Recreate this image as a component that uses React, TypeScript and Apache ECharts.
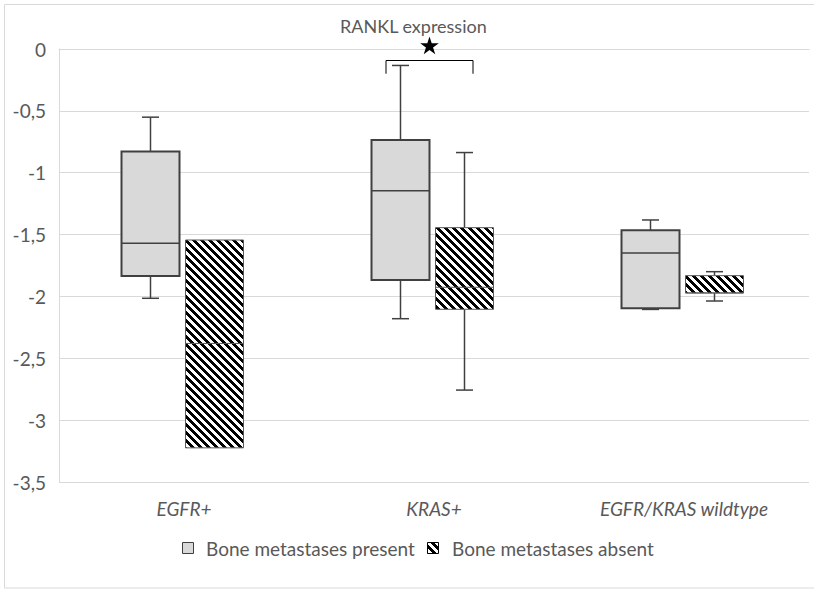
import React, { useEffect, useRef } from "react";
import * as echarts from "echarts";

const categories = ["EGFR+", "KRAS+", "EGFR/KRAS wildtype"];
// [min, Q1, median, Q3, max]
const presentStats = [
  [-2.015, -1.835, -1.57, -0.829, -0.551],
  [-2.18, -1.867, -1.145, -0.735, -0.133],
  [-2.105, -2.096, -1.649, -1.465, -1.382],
];
const absentStats = [
  [-3.224, -3.224, -2.38, -1.544, -1.544],
  [-2.757, -2.104, -1.926, -1.444, -0.837],
  [-2.037, -1.972, -1.972, -1.832, -1.8],
];
const seriesNames = ["Bone metastases present", "Bone metastases absent"];
const yMin = -3.5;
const yMax = 0;
const yStep = 0.5;
// significance bracket (KRAS+): bracket top value, bracket end value, star centre value
const sigCategory = 1;
const sigValues = [-0.093, -0.2, 0.022];

const FONT = "Lato";
const GRAY = "#595959";

function makeHatch(): string {
  const c = document.createElement("canvas");
  c.width = 8;
  c.height = 8;
  const ctx = c.getContext("2d")!;
  ctx.fillStyle = "#ffffff";
  ctx.fillRect(0, 0, 8, 8);
  ctx.fillStyle = "#000000";
  for (let y = 0; y < 8; y++) {
    for (let x = 0; x < 8; x++) {
      if ((((x - y) % 8) + 8) % 8 < 4) ctx.fillRect(x, y, 1, 1);
    }
  }
  return c.toDataURL();
}

function starPoints(cx: number, cy: number, R: number): number[][] {
  const r = R * 0.382;
  const pts: number[][] = [];
  for (let i = 0; i < 10; i++) {
    const a = -Math.PI / 2 + (i * Math.PI) / 5;
    const rad = i % 2 === 0 ? R : r;
    pts.push([cx + rad * Math.cos(a), cy + rad * Math.sin(a)]);
  }
  return pts;
}

export default function App() {
  const ref = useRef<HTMLDivElement>(null);
  useEffect(() => {
    if (!ref.current) return;
    const chart = echarts.init(ref.current, null, { renderer: "svg" });
    const hatch = {
      image: makeHatch(),
      repeat: "repeat",
      imageWidth: 8,
      imageHeight: 8,
    } as any;

    const boxStyles = [
      { fill: "#d9d9d9", stroke: "#404040", lineWidth: 2, offset: -33.5 / 250, median: "#404040", medianW: 1.5 },
      { fill: hatch, stroke: "#595959", lineWidth: 1, offset: 30.5 / 250, median: "#595959", medianW: 1 },
    ];

    const makeBoxSeries = (idx: number, stats: number[][]) => ({
      type: "custom",
      name: seriesNames[idx],
      coordinateSystem: "cartesian2d",
      dimensions: ["cat", "min", "q1", "med", "q3", "max"],
      encode: { x: 0, y: [1, 2, 3, 4, 5] },
      data: stats.map((s, i) => [i, ...s]),
      z: 3,
      renderItem: (params: any, api: any) => {
        const st = boxStyles[idx];
        const cat = api.value(0);
        const band = api.size([1, 0])[0];
        const cx = api.coord([cat, 0])[0] + st.offset * band;
        const w = band * (58 / 250);
        const cap = band * (17 / 250);
        const y = (v: number) => api.coord([cat, v])[1];
        const vMin = api.value(1), vQ1 = api.value(2), vMed = api.value(3), vQ3 = api.value(4), vMax = api.value(5);
        const children: any[] = [];
        const wStyle = { stroke: "#404040", lineWidth: 1.5 };
        if (vMax !== vQ3) {
          children.push({ type: "line", shape: { x1: cx, y1: y(vMax), x2: cx, y2: y(vQ3) }, style: wStyle });
          children.push({ type: "line", shape: { x1: cx - cap / 2, y1: y(vMax), x2: cx + cap / 2, y2: y(vMax) }, style: wStyle });
        }
        if (vMin !== vQ1) {
          children.push({ type: "line", shape: { x1: cx, y1: y(vQ1), x2: cx, y2: y(vMin) }, style: wStyle });
          children.push({ type: "line", shape: { x1: cx - cap / 2, y1: y(vMin), x2: cx + cap / 2, y2: y(vMin) }, style: wStyle });
        }
        children.push({
          type: "rect",
          shape: { x: cx - w / 2, y: y(vQ3), width: w, height: y(vQ1) - y(vQ3) },
          style: { fill: st.fill, stroke: st.stroke, lineWidth: st.lineWidth },
        });
        children.push({
          type: "line",
          shape: { x1: cx - w / 2, y1: y(vMed), x2: cx + w / 2, y2: y(vMed) },
          style: { stroke: st.median, lineWidth: st.medianW },
        });
        return { type: "group", children };
      },
    });

    const option: any = {
      animation: false,
      title: {
        text: "RANKL expression",
        left: 340,
        top: 17,
        padding: 0,
        textStyle: { fontFamily: FONT, fontSize: 18, lineHeight: 18, fontWeight: "normal", color: GRAY },
      },
      grid: { left: 59, right: 5, top: 49, bottom: 107, containLabel: false },
      xAxis: {
        type: "category",
        data: categories,
        axisLine: { show: true, lineStyle: { color: "#d9d9d9", width: 1 } },
        axisTick: { show: false },
        axisLabel: { fontFamily: FONT, fontSize: 19, fontStyle: "italic", color: GRAY, margin: 17 },
        splitLine: { show: false },
      },
      yAxis: {
        type: "value",
        min: yMin,
        max: yMax,
        interval: yStep,
        axisLine: { show: true, lineStyle: { color: "#d9d9d9", width: 1 } },
        axisTick: { show: false },
        axisLabel: {
          fontFamily: FONT,
          fontSize: 19,
          color: GRAY,
          margin: 13,
          formatter: (v: number) => String(v).replace(".", ","),
        },
        splitLine: { show: true, lineStyle: { color: "#d9d9d9", width: 1 } },
      },
      series: [
        makeBoxSeries(0, presentStats),
        makeBoxSeries(1, absentStats),
        {
          type: "custom",
          name: "significance",
          coordinateSystem: "cartesian2d",
          clip: false,
          z: 5,
          data: [[sigCategory, ...sigValues]],
          dimensions: ["cat", "top", "end", "star"],
          encode: { x: 0, y: [1, 2, 3] },
          renderItem: (params: any, api: any) => {
            const cat = api.value(0);
            const band = api.size([1, 0])[0];
            const c = api.coord([cat, 0])[0];
            const xl = c - band * (48 / 250);
            const xr = c + band * (39 / 250);
            const yt = api.coord([cat, api.value(1)])[1];
            const ye = api.coord([cat, api.value(2)])[1];
            const ys = api.coord([cat, api.value(3)])[1];
            return {
              type: "group",
              children: [
                {
                  type: "polyline",
                  shape: { points: [[xl, ye], [xl, yt], [xr, yt], [xr, ye]] },
                  style: { stroke: "#000", lineWidth: 1, fill: "none" },
                },
                {
                  type: "polygon",
                  shape: { points: starPoints((xl + xr) / 2, ys, 9.8) },
                  style: { fill: "#000", stroke: "none" },
                },
              ],
            };
          },
        },
      ],
      graphic: [
        {
          type: "rect",
          shape: { x: 4.5, y: 4.5, width: 830, height: 583.5 },
          style: { fill: "none", stroke: "#d9d9d9", lineWidth: 1 },
          z: 0,
        },
        {
          type: "rect",
          shape: { x: 182.5, y: 542.5, width: 11, height: 11 },
          style: { fill: "#d9d9d9", stroke: "#404040", lineWidth: 1 },
        },
        {
          type: "text",
          x: 206,
          y: 548,
          style: { text: seriesNames[0], fontFamily: FONT, fontSize: 19, fill: GRAY, verticalAlign: "middle" },
        },
        {
          type: "rect",
          shape: { x: 427.5, y: 542.5, width: 11, height: 11 },
          style: { fill: hatch, stroke: "#000", lineWidth: 1 },
        },
        {
          type: "text",
          x: 452,
          y: 548,
          style: { text: seriesNames[1], fontFamily: FONT, fontSize: 19, fill: GRAY, verticalAlign: "middle" },
        },
      ],
    };
    chart.setOption(option);
    return () => chart.dispose();
  }, []);
  return (
    <div
      ref={ref}
      style={{ position: "absolute", left: 0, top: 0, width: 814, height: 589, background: "#fff" }}
    />
  );
}
